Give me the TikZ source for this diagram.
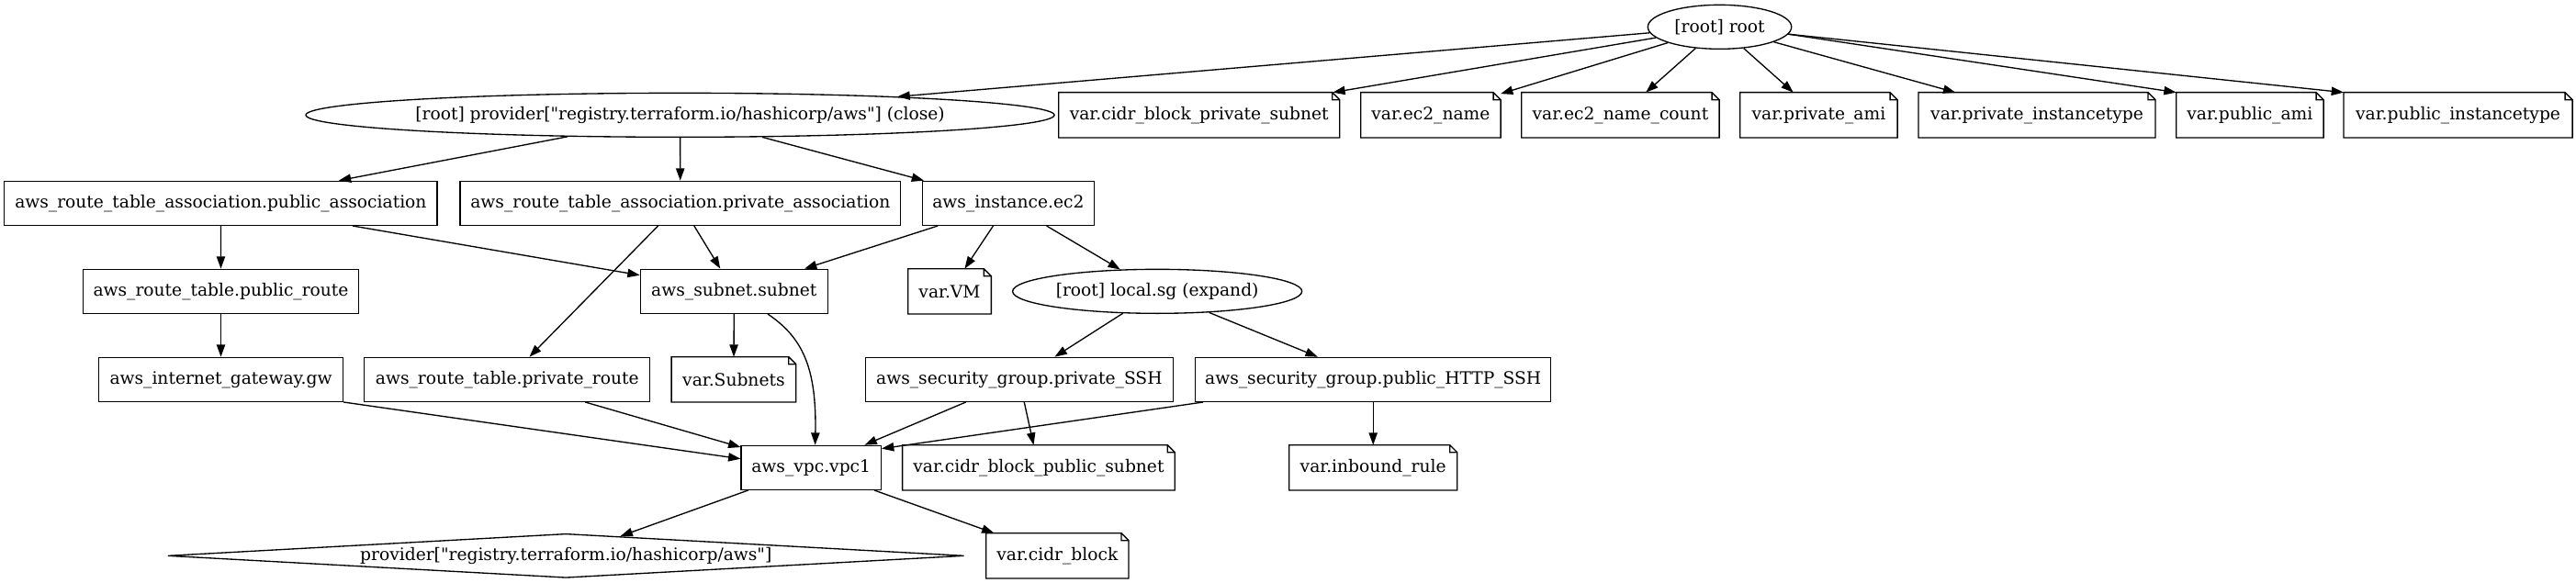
\documentclass[tikz,border=0pt]{standalone}
\usepackage{fontspec}
\setmainfont{DejaVu Serif}[Ligatures=TeXOff]
\usetikzlibrary{arrows.meta,shapes.geometric,calc}
\begin{document}
\begin{tikzpicture}[x=1pt,y=-1pt,
  every node/.style={font=\fontsize{14}{16}\selectfont, inner sep=0pt, minimum height=36pt, line width=1pt},
  box/.style={draw, rectangle},
  notebox/.style={rectangle},
  ell/.style={draw, ellipse},
  dia/.style={draw, diamond, aspect=18},
  arr/.style={line width=1pt, -{Triangle[length=10pt,width=7pt]}},
  noteline/.style={line width=1pt}
]
\fill[white] (0,0) rectangle (2103.75,476.25);
\useasboundingbox (0,0) rectangle (2103.75,476.25);

% rank 0
\node[ell, minimum width=117.3pt] (root) at (1404.4,22) {[root] root};
% rank 1
\node[ell, minimum width=583.3pt] (pc) at (555.4,94) {[root] provider["registry.terraform.io/hashicorp/aws"] (close)};
\node[notebox, minimum width=228.5pt] (cbps) at (979.3,94) {var.cidr\_block\_private\_subnet};
\node[notebox, minimum width=113.3pt] (ec2n) at (1168.4,94) {var.ec2\_name};
\node[notebox, minimum width=160.5pt] (ec2c) at (1323.3,94) {var.ec2\_name\_count};
\node[notebox, minimum width=127.5pt] (pami) at (1485.3,94) {var.private\_ami};
\node[notebox, minimum width=192.5pt] (pit) at (1663.5,94) {var.private\_instancetype};
\node[notebox, minimum width=119.3pt] (puami) at (1837.4,94) {var.public\_ami};
\node[notebox, minimum width=185.8pt] (puit) at (2007.4,94) {var.public\_instancetype};
% rank 2
\node[box, minimum width=353.5pt] (pubassoc) at (180.3,166) {aws\_route\_table\_association.public\_association};
\node[box, minimum width=359.8pt] (privassoc) at (555.6,166) {aws\_route\_table\_association.private\_association};
\node[box, minimum width=140.2pt] (inst) at (823.4,166) {aws\_instance.ec2};
% rank 3
\node[box, minimum width=225.3pt] (pubroute) at (180.4,238) {aws\_route\_table.public\_route};
\node[box, minimum width=153pt] (subnet) at (599.5,238) {aws\_subnet.subnet};
\node[notebox, minimum width=67pt] (vm) at (775.5,238) {var.VM};
\node[ell, minimum width=236.3pt] (sg) at (945.1,238) {[root] local.sg (expand)};
% rank 4
\node[box, minimum width=199.3pt] (igw) at (180.4,310) {aws\_internet\_gateway.gw};
\node[box, minimum width=233.2pt] (privroute) at (414.2,310) {aws\_route\_table.private\_route};
\node[notebox, minimum width=100.7pt] (subnets) at (599.2,310) {var.Subnets};
\node[box, minimum width=251.3pt] (pssh) at (832.4,310) {aws\_security\_group.private\_SSH};
\node[box, minimum width=290.2pt] (phs) at (1121.4,310) {aws\_security\_group.public\_HTTP\_SSH};
% rank 5
\node[box, minimum width=114.2pt] (vpc) at (662.4,382) {aws\_vpc.vpc1};
\node[notebox, minimum width=221.5pt] (cbpub) at (848.2,382) {var.cidr\_block\_public\_subnet};
\node[notebox, minimum width=136.2pt] (inbound) at (1121.4,382) {var.inbound\_rule};
% rank 6
\node[dia, minimum width=650.5pt] (dia) at (462.2,454) {provider["registry.terraform.io/hashicorp/aws"]};
\node[notebox, minimum width=115.5pt] (cb) at (863.5,454) {var.cidr\_block};

% note outlines
\foreach \n in {cbps,ec2n,ec2c,pami,pit,puami,puit,vm,subnets,cbpub,inbound,cb} {
  \draw[noteline] (\n.north west) -- ([xshift=-6pt]\n.north east) -- ([yshift=-6pt]\n.north east)
    -- (\n.south east) -- (\n.south west) -- cycle
    ([xshift=-6pt]\n.north east) |- ([yshift=-6pt]\n.north east);
}

% edges
\draw[arr] (root) -- (pc);
\draw[arr] (root) -- (cbps);
\draw[arr] (root) -- (ec2n);
\draw[arr] (root) -- (ec2c);
\draw[arr] (root) -- (pami);
\draw[arr] (root) -- (pit);
\draw[arr] (root.-6) -- (puami.north west);
\draw[arr] (root.-6) -- (puit.north west);

\draw[arr] (pc) -- (pubassoc);
\draw[arr] (pc) -- (privassoc);
\draw[arr] (pc) -- (inst);

\draw[arr] (pubassoc) -- (pubroute);
\draw[arr] (pubassoc) -- (subnet);
\draw[arr] (privassoc) -- (subnet);
\draw[arr] (privassoc) -- (privroute);
\draw[arr] (inst) -- (subnet);
\draw[arr] (inst) -- (vm);
\draw[arr] (inst) -- (sg);

\draw[arr] (pubroute) -- (igw);
\draw[arr] (subnet) -- (subnets);
\draw[arr] ([xshift=27.5pt]subnet.south) .. controls ($(subnet.south)+(55.5,19)$) and ($(vpc.north)+(4.6,-64)$) .. ([xshift=3.3pt]vpc.north);
\draw[arr] (sg) -- (pssh);
\draw[arr] (sg) -- (phs);

\draw[arr] (igw.south east) -- ([yshift=7.2pt]vpc.west);
\draw[arr] (privroute) -- (vpc);
\draw[arr] (pssh) -- (vpc);
\draw[arr] (pssh) -- (cbpub);
\draw[arr] ([xshift=-138.9pt]phs.south) -- ([yshift=-3pt]vpc.north east);
\draw[arr] (phs) -- (inbound);

\draw[arr] (vpc) -- (dia);
\draw[arr] (vpc) -- (cb);
\end{tikzpicture}
\end{document}
